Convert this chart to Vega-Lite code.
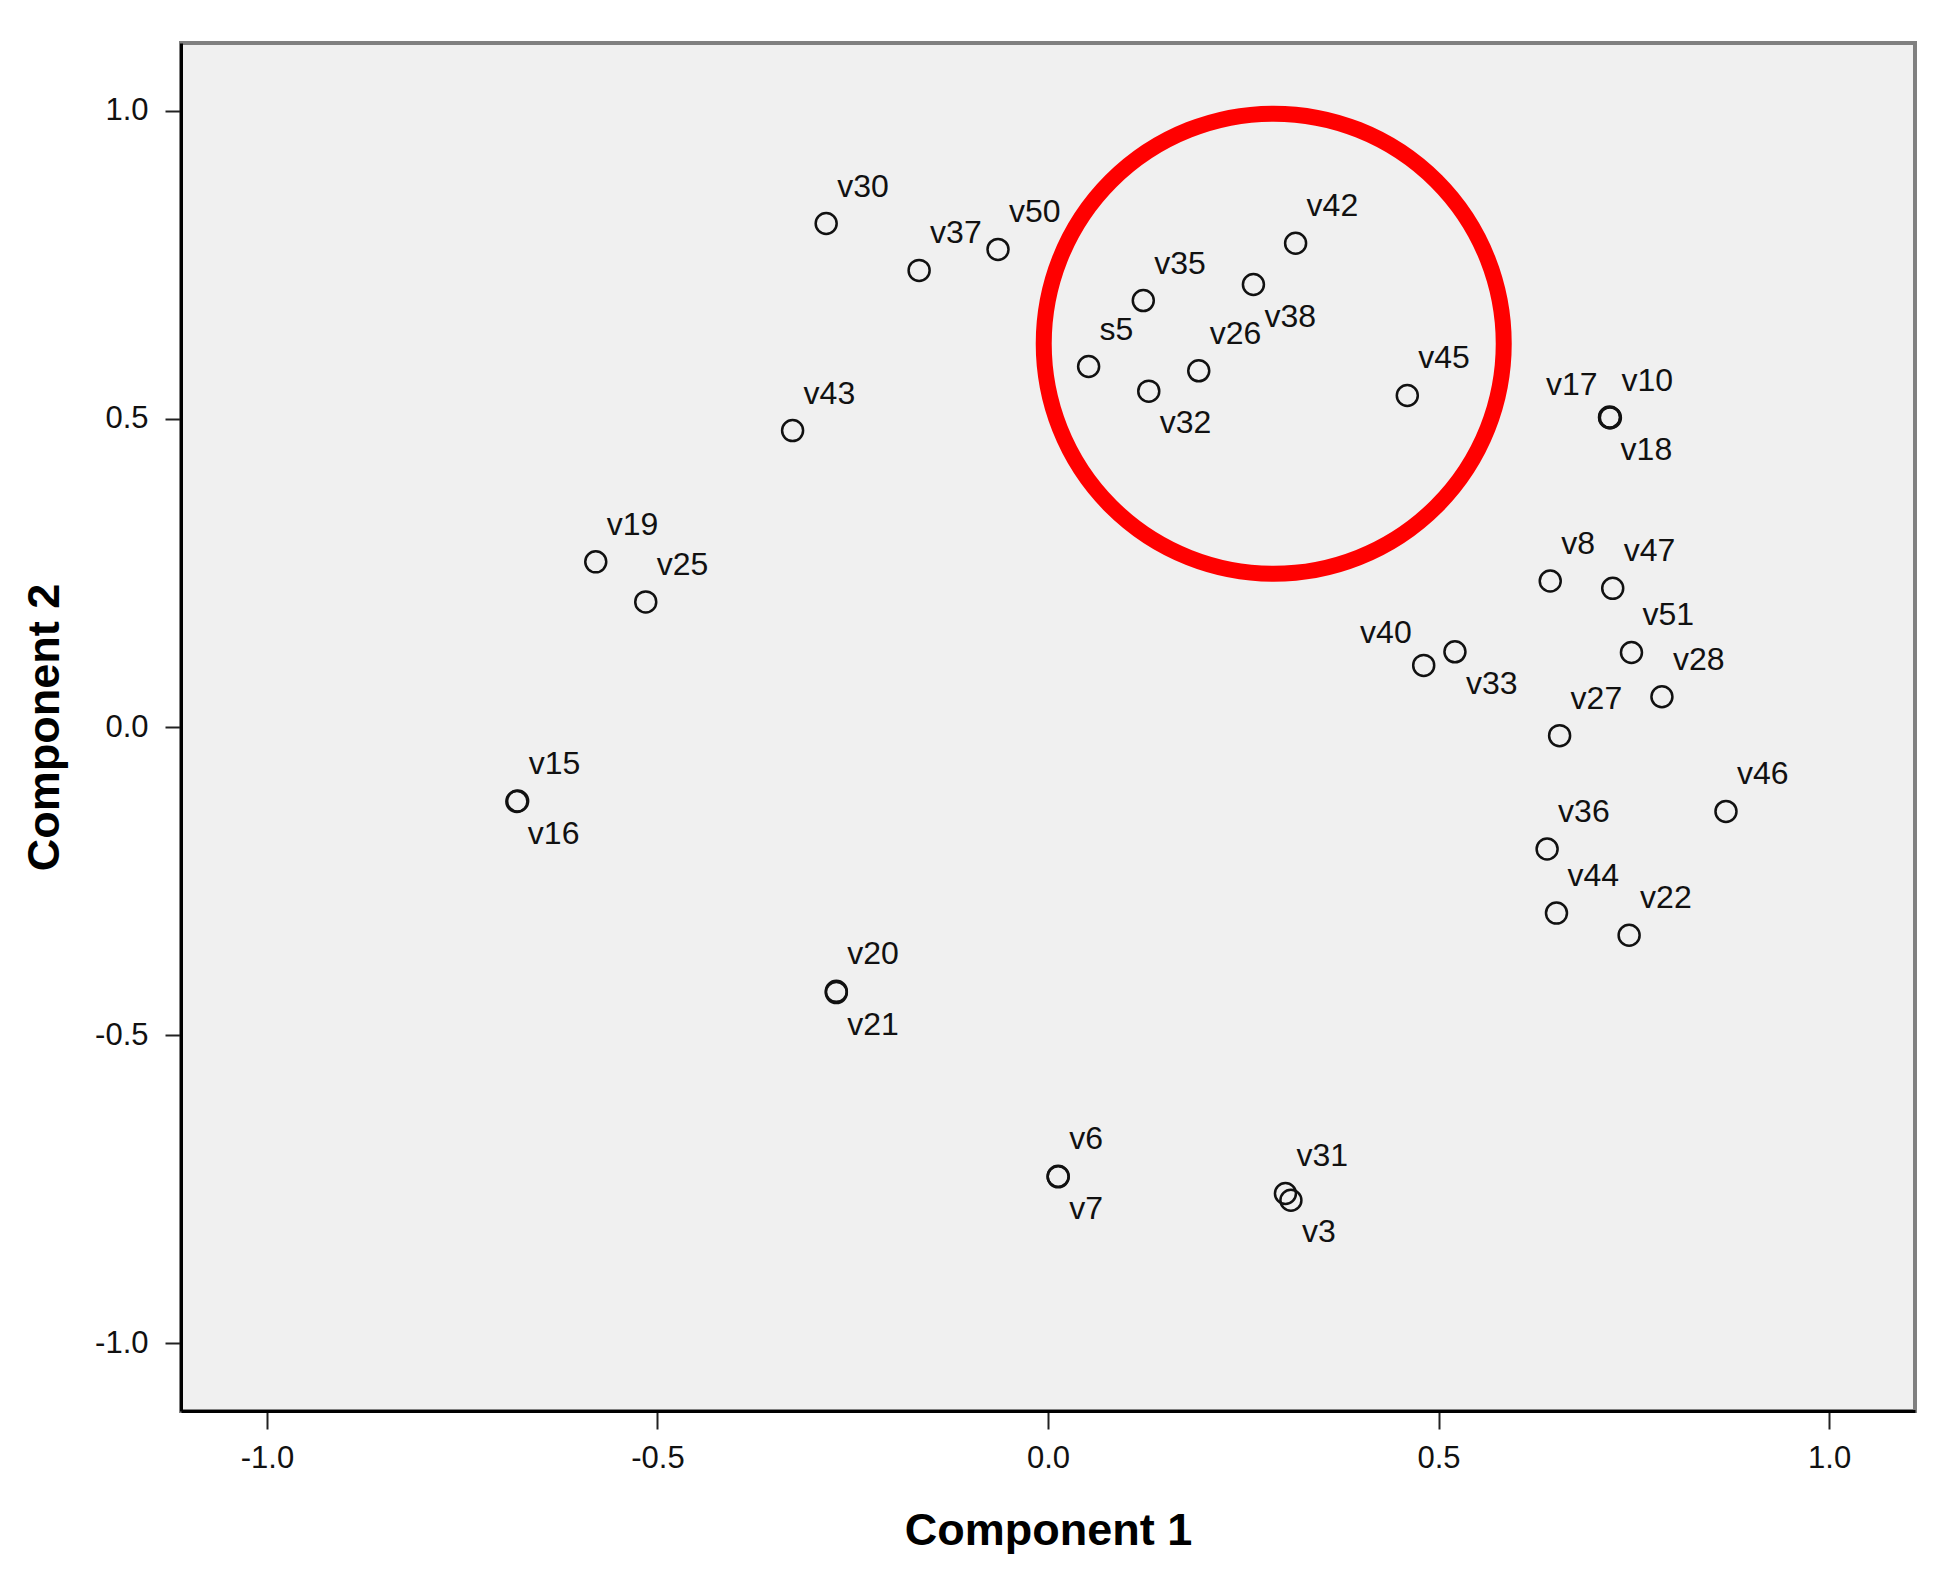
{
  "$schema": "https://vega.github.io/schema/vega-lite/v6.json",
  "width": 1734,
  "height": 1368,
  "autosize": {"type": "none"},
  "padding": {"left": 181, "top": 43, "right": 23, "bottom": 165},
  "background": "white",
  "config": {
    "view": {"fill": "#f0f0f0", "stroke": "#808080", "strokeWidth": 4},
    "font": "Liberation Sans"
  },
  "datasets": {
    "loadings": [
      {"label": "v30", "c1": -0.284, "c2": 0.817},
      {"label": "v37", "c1": -0.165, "c2": 0.741},
      {"label": "v50", "c1": -0.064, "c2": 0.775},
      {"label": "v43", "c1": -0.327, "c2": 0.481},
      {"label": "v19", "c1": -0.579, "c2": 0.268},
      {"label": "v25", "c1": -0.515, "c2": 0.203},
      {"label": "v15", "c1": -0.679, "c2": -0.120},
      {"label": "v16", "c1": -0.680, "c2": -0.121},
      {"label": "v20", "c1": -0.271, "c2": -0.429},
      {"label": "v21", "c1": -0.271, "c2": -0.431},
      {"label": "v6", "c1": 0.013, "c2": -0.729},
      {"label": "v7", "c1": 0.013, "c2": -0.730},
      {"label": "v31", "c1": 0.304, "c2": -0.757},
      {"label": "v3", "c1": 0.311, "c2": -0.768},
      {"label": "s5", "c1": 0.052, "c2": 0.585},
      {"label": "v35", "c1": 0.122, "c2": 0.692},
      {"label": "v32", "c1": 0.129, "c2": 0.545},
      {"label": "v26", "c1": 0.193, "c2": 0.578},
      {"label": "v38", "c1": 0.263, "c2": 0.718},
      {"label": "v42", "c1": 0.317, "c2": 0.785},
      {"label": "v45", "c1": 0.460, "c2": 0.538},
      {"label": "v17", "c1": 0.719, "c2": 0.503},
      {"label": "v10", "c1": 0.720, "c2": 0.502},
      {"label": "v18", "c1": 0.719, "c2": 0.502},
      {"label": "v8", "c1": 0.643, "c2": 0.237},
      {"label": "v47", "c1": 0.723, "c2": 0.225},
      {"label": "v51", "c1": 0.747, "c2": 0.121},
      {"label": "v28", "c1": 0.786, "c2": 0.049},
      {"label": "v40", "c1": 0.481, "c2": 0.100},
      {"label": "v33", "c1": 0.521, "c2": 0.122},
      {"label": "v27", "c1": 0.655, "c2": -0.014},
      {"label": "v46", "c1": 0.868, "c2": -0.137},
      {"label": "v36", "c1": 0.639, "c2": -0.198},
      {"label": "v44", "c1": 0.651, "c2": -0.302},
      {"label": "v22", "c1": 0.744, "c2": -0.338}
    ],
    "highlight": [
      {"label": "highlighted group", "c1": 0.289, "c2": 0.622}
    ]
  },
  "encoding": {
    "x": {
      "field": "c1",
      "type": "quantitative",
      "scale": {"domain": [-1.11, 1.11], "nice": false, "zero": false},
      "axis": {
        "title": "Component 1",
        "values": [-1, -0.5, 0, 0.5, 1],
        "labelExpr": "replace(format(datum.value, '.1f'), '\u2212', '-')",
        "grid": false,
        "domainColor": "black",
        "domainWidth": 3,
        "tickColor": "#222222",
        "tickWidth": 2,
        "tickSize": 18,
        "labelFontSize": 31,
        "labelColor": "#111111",
        "labelPadding": 14,
        "titleFontSize": 45,
        "titleFontWeight": "bold",
        "titleColor": "black",
        "titleBaseline": "alphabetic",
        "titleX": 867,
        "titleY": 133
      }
    },
    "y": {
      "field": "c2",
      "type": "quantitative",
      "scale": {"domain": [-1.11, 1.11], "nice": false, "zero": false},
      "axis": {
        "title": "Component 2",
        "values": [-1, -0.5, 0, 0.5, 1],
        "labelExpr": "replace(format(datum.value, '.1f'), '\u2212', '-')",
        "grid": false,
        "domainColor": "black",
        "domainWidth": 3,
        "tickColor": "#222222",
        "tickWidth": 2,
        "tickSize": 16,
        "labelFontSize": 31,
        "labelColor": "#111111",
        "labelPadding": 17,
        "titleFontSize": 45,
        "titleFontWeight": "bold",
        "titleColor": "black",
        "titleAngle": -90,
        "titleBaseline": "alphabetic",
        "titleX": -123,
        "titleY": 684
      }
    }
  },
  "layer": [
    {
      "mark": {"type": "rule", "color": "#1a1a1a", "strokeWidth": 3},
      "encoding": {"x": {"datum": 0}, "y": null}
    },
    {
      "mark": {"type": "rule", "color": "#1a1a1a", "strokeWidth": 3},
      "encoding": {"y": {"datum": 0}, "x": null}
    },
    {
      "data": {"name": "loadings"},
      "mark": {"type": "point", "shape": "circle", "filled": false, "color": "#111111", "strokeWidth": 2.5, "size": 441, "opacity": 1}
    },
    {
      "data": {"name": "loadings"},
      "transform": [{"filter": {"not": {"field": "label", "oneOf": ["v16", "v21", "v7", "v3", "v32", "v38", "v18", "v33", "v17", "v40"]}}}],
      "mark": {"type": "text", "align": "left", "baseline": "alphabetic", "dx": 11, "dy": -27, "fontSize": 32, "color": "#111111", "font": "Liberation Sans"},
      "encoding": {"text": {"field": "label"}}
    },
    {
      "data": {"name": "loadings"},
      "transform": [{"filter": {"field": "label", "oneOf": ["v16", "v21", "v7", "v3", "v32", "v38", "v18", "v33"]}}],
      "mark": {"type": "text", "align": "left", "baseline": "alphabetic", "dx": 11, "dy": 42, "fontSize": 32, "color": "#111111", "font": "Liberation Sans"},
      "encoding": {"text": {"field": "label"}}
    },
    {
      "data": {"name": "loadings"},
      "transform": [{"filter": {"field": "label", "oneOf": ["v17", "v40"]}}],
      "mark": {"type": "text", "align": "right", "baseline": "alphabetic", "dx": -12, "dy": -22, "fontSize": 32, "color": "#111111", "font": "Liberation Sans"},
      "encoding": {"text": {"field": "label"}}
    },
    {
      "data": {"name": "highlight"},
      "mark": {"type": "point", "shape": "circle", "filled": false, "stroke": "#ff0000", "strokeWidth": 16, "size": 211600, "opacity": 1}
    }
  ]
}
